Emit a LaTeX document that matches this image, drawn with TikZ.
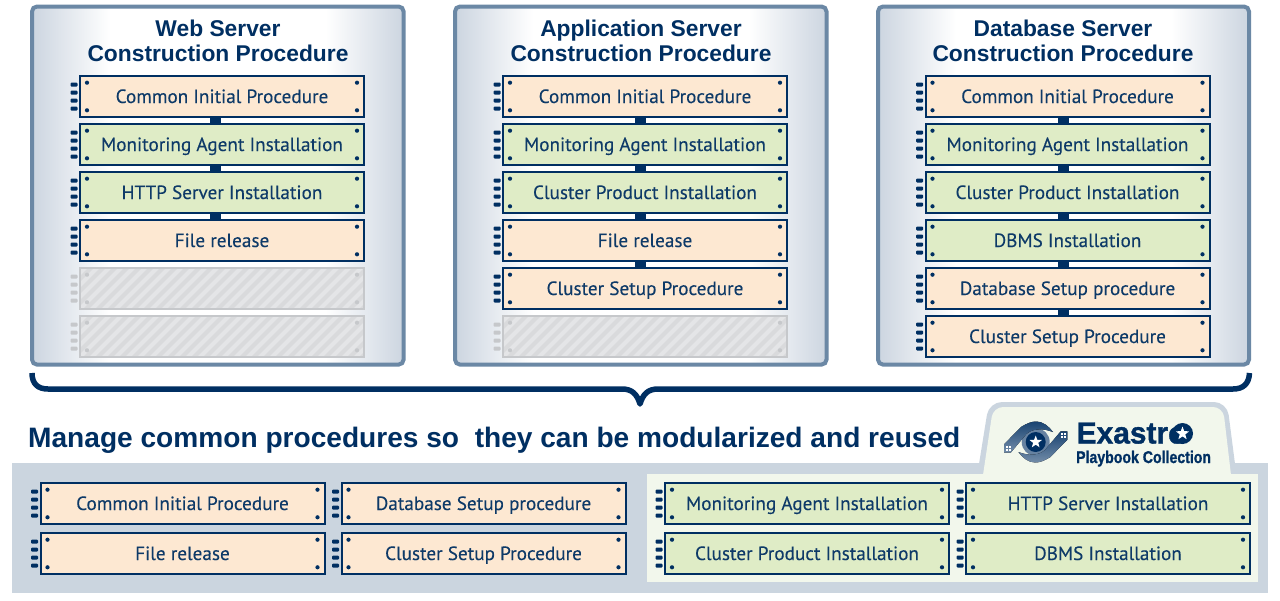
\documentclass[tikz,border=0pt]{standalone}
\usepackage{fontspec}
\setmainfont{PT Sans}[FakeBold=0.15]
\newfontfamily\headfont{Liberation Sans}[BoldFont={Liberation Sans Bold}]
\newfontfamily\logofont{Liberation Sans Bold}[FakeBold=1.2]
\usetikzlibrary{positioning,calc,shapes.geometric}
\definecolor{navy}{HTML}{002F62}
\definecolor{textblue}{HTML}{0E3A68}
\definecolor{panelline}{HTML}{6B88A5}
\definecolor{panelside}{HTML}{CCD5E0}
\definecolor{bandgray}{HTML}{CBD5DF}
\definecolor{insetgreen}{HTML}{F2F7EC}
\definecolor{peach}{HTML}{FDE8D2}
\definecolor{leaf}{HTML}{DFECC6}
\definecolor{hatchgray}{HTML}{D9DADC}
\definecolor{hatchline}{HTML}{C6C8CB}
\pgfdeclarehorizontalshading{panelshade}{100bp}{
  color(0bp)=(panelside); color(25bp)=(panelside); color(35.5bp)=(white); color(64.5bp)=(white); color(75bp)=(panelside); color(100bp)=(panelside)}

% one module plate: tabs on the left and four screws
\newcommand{\plate}[2]{
  \foreach \ty in {-12,-4,4,12}
    \fill[#2, rounded corners=1pt] ($(#1.west)+(-8.5,\ty-2)$) rectangle ($(#1.west)+(-1.5,\ty+2)$);
  \foreach \sx/\sy in {135/13.8,135/-13.8,-135/13.8,-135/-13.8}
    \fill[#2] ($(#1.center)+(\sx,\sy)$) circle (2.1);
}
% one arm of the logo, drawn around the eye centre
\newcommand{\logoarm}[1]{
  \begin{scope}[shift={(1035.7,442)}, rotate=#1]
    \fill[top color=navy!90!white, bottom color=navy!55!white]
      (-31.7,2.3) -- (-14.3,-15.3) .. controls (-8,-19) and (-4,-20.5) .. (0.7,-20.5)
      .. controls (7,-20.5) and (13,-16) .. (17.3,-10)
      .. controls (12,-12) and (7,-13) .. (2.3,-12.5)
      .. controls (-3,-12.5) and (-7,-10) .. (-9.3,-8) -- (-25,10.7) -- (-31.7,10.7) -- cycle;
    \foreach \wx/\wy in {-29/5,-26/5,-29/8,-26/8}
      \fill[white] (\wx-1,\wy-1) rectangle (\wx+1,\wy+1);
  \end{scope}
}

\begin{document}
\begin{tikzpicture}[x=1pt,y=-1pt]
  \tikzstyle{panel}=[draw=panelline, line width=4pt, rounded corners=5pt, shade, shading=panelshade]
  \tikzstyle{plate}=[rectangle, draw=navy, line width=2pt, minimum width=284pt, minimum height=41pt, inner sep=0pt, text=textblue, text height=14pt, text depth=1pt, font=\fontsize{19.2}{22}\selectfont]
  \tikzstyle{common}=[plate, fill=peach]
  \tikzstyle{tool}=[plate, fill=leaf]
  \tikzstyle{empty}=[plate, draw=hatchline, fill=hatchgray, path picture={
      \foreach \k in {0,12,...,348}
        \draw[white!30!hatchgray, line width=4pt] ($(path picture bounding box.south west)+(\k-50,2)$) -- ++(60,-60);}]
  \tikzstyle{title}=[text=navy, align=center, font=\headfont\bfseries\fontsize{22.8}{25.5}\selectfont]
  \tikzstyle{link}=[navy, line width=11pt]
  \tikzstyle{brace}=[draw=navy, line width=5.5pt, line join=round]

  \useasboundingbox (0,0) rectangle (1280,600);
  \fill[white] (0,0) rectangle (1280,600);

  % Paneles de servidores
  \draw[panel] (32,6.5) rectangle (403.6,364.6);
  \draw[panel] (455,6.5) rectangle (826.5,364.6);
  \draw[panel] (878,6.5) rectangle (1249,364.6);
  \node[title] (tweb) at (218,41) {Web Server\\Construction Procedure};
  \node[title] (tapp) at (641,41) {Application Server\\Construction Procedure};
  \node[title] (tdb) at (1063,41) {Database Server\\Construction Procedure};

  % Columna web
  \node[common] (w1) at (222,96.5) {Common Initial Procedure};
  \node[tool] (w2) at (222,144.5) {Monitoring Agent Installation};
  \node[tool] (w3) at (222,192.5) {HTTP Server Installation};
  \node[common] (w4) at (222,240.5) {File release};
  \node[empty] (w5) at (222,288.5) {};
  \node[empty] (w6) at (222,336.5) {};
  % Columna aplicacion
  \node[common] (a1) at (645,96.5) {Common Initial Procedure};
  \node[tool] (a2) at (645,144.5) {Monitoring Agent Installation};
  \node[tool] (a3) at (645,192.5) {Cluster Product Installation};
  \node[common] (a4) at (645,240.5) {File release};
  \node[common] (a5) at (645,288.5) {Cluster Setup Procedure};
  \node[empty] (a6) at (645,336.5) {};
  % Columna base de datos
  \node[common] (d1) at (1067.5,96.5) {Common Initial Procedure};
  \node[tool] (d2) at (1067.5,144.5) {Monitoring Agent Installation};
  \node[tool] (d3) at (1067.5,192.5) {Cluster Product Installation};
  \node[tool] (d4) at (1067.5,240.5) {DBMS Installation};
  \node[common] (d5) at (1067.5,288.5) {Database Setup procedure};
  \node[common] (d6) at (1067.5,336.5) {Cluster Setup Procedure};

  % Uniones
  \foreach \p/\q in {w1/w2,w2/w3,w3/w4}
    \draw[link] ([xshift=-7pt]\p.south) -- ([xshift=-7pt]\q.north);
  \foreach \p/\q in {a1/a2,a2/a3,a3/a4,a4/a5}
    \draw[link] ([xshift=-5pt]\p.south) -- ([xshift=-5pt]\q.north);
  \foreach \p/\q in {d1/d2,d2/d3,d3/d4,d4/d5,d5/d6}
    \draw[link] ([xshift=-4.5pt]\p.south) -- ([xshift=-4.5pt]\q.north);

  % Llave
  \coordinate (bl) at (32,373);
  \coordinate (br) at (1249.5,373);
  \coordinate (bm) at (640,404);
  \draw[brace] (bl) .. controls (32,384) and (38,389) .. (48,389) -- (622,389)
    .. controls (632,389) and (637,394) .. (bm)
    .. controls (643,394) and (648,389) .. (658,389) -- (1233,389)
    .. controls (1243,389) and (1249,384) .. (br);

  \node[anchor=base west, text=navy, inner sep=0pt, font=\headfont\bfseries\fontsize{28.1}{30}\selectfont] (head) at (28,447.5) {Manage common procedures so\ \ they can be modularized and reused};

  % Banda inferior y pestana
  \fill[bandgray] (12,463) rectangle (1268,593);
  \fill[bandgray] (979,464) [rounded corners=13pt] -- (989,402) -- (1227,402) [sharp corners] -- (1235,464) -- cycle;
  \fill[insetgreen] (647,474) rectangle (1258,582);
  \fill[insetgreen] (983,475) [rounded corners=10pt] -- (993.2,407) -- (1223,407) [sharp corners] -- (1231,475) -- cycle;

  % Logo
  \fill[navy!60!white] (1035.7,442) circle (14);
  \logoarm{0}
  \logoarm{180}
  \node[circle, fill=navy, minimum size=20pt, inner sep=0pt] (lcore) at (1035.7,442) {};
  \node[star, star points=5, star point ratio=2.4, fill=white, minimum size=13pt, inner sep=0pt] (lstar) at (1035.7,442) {};
  \node[anchor=base west, inner sep=0pt, xscale=.98, transform shape, text=navy, font=\logofont\fontsize{30.5}{32}\selectfont] (lname) at (1076.5,443.5) {Exastro};
  \node[circle, fill=navy, minimum size=21pt, inner sep=0pt] (locore) at (1182.5,433.5) {};
  \node[star, star points=5, star point ratio=2.4, fill=white, minimum size=14pt, inner sep=0pt] (lostar) at (1182.5,433.5) {};
  \node[anchor=base west, inner sep=0pt, xscale=.83, transform shape, text=navy, font=\logofont\fontsize{17}{19}\selectfont] (lsub) at (1076,463) {Playbook Collection};

  % Modulos comunes
  \node[common] (m1) at (182.5,503.5) {Common Initial Procedure};
  \node[common] (m2) at (483.5,503.5) {Database Setup procedure};
  \node[common] (m3) at (182.5,553.5) {File release};
  \node[common] (m4) at (483.5,553.5) {Cluster Setup Procedure};
  \node[tool] (m5) at (807,503.5) {Monitoring Agent Installation};
  \node[tool] (m6) at (1108,503.5) {HTTP Server Installation};
  \node[tool] (m7) at (807,553.5) {Cluster Product Installation};
  \node[tool] (m8) at (1108,553.5) {DBMS Installation};

  % Detalles de las placas
  \foreach \n in {w1,w2,w3,w4,a1,a2,a3,a4,a5,d1,d2,d3,d4,d5,d6,m1,m2,m3,m4,m5,m6,m7,m8}
    {\plate{\n}{navy}}
  \foreach \n in {w5,w6,a6}
    {\plate{\n}{hatchline}}
\end{tikzpicture}
\end{document}
